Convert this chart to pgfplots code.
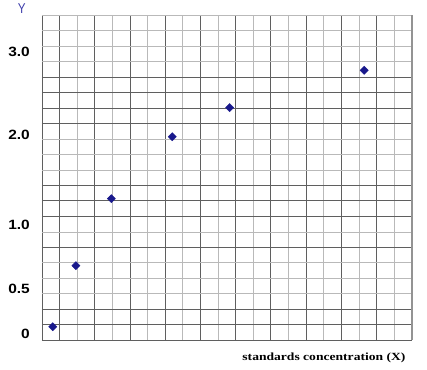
\documentclass[border=0pt]{standalone}
\usepackage{fontspec}
\setmainfont{Liberation Sans}
\newfontfamily\serifb{Liberation Serif}[FakeStretch=1.24]
\newfontfamily\tickfont{Liberation Sans}[FakeStretch=1.15]
\usepackage{pgfplots}
\pgfplotsset{compat=1.18}
\definecolor{darkgrid}{RGB}{95,95,95}
\definecolor{lightgrid}{RGB}{185,185,185}
\definecolor{navy}{RGB}{25,25,140}
\definecolor{ylab}{RGB}{60,60,170}
\begin{document}
\begin{tikzpicture}
\useasboundingbox (-42bp,-29.7bp) rectangle (385bp,340.3bp);
\begin{axis}[
 name=main,
 at={(0,0)}, anchor=south west,
 scale only axis, width=369.7bp, height=325.3bp,
 xmin=0,xmax=21,ymin=0,ymax=21,
 axis line style={draw=none},
 xtick={0,1,3,5,7,9,11,13,15,17,19}, minor xtick={2,4,6,8,10,12,14,16,18,20},
 ytick={0,1,2,6,8,9,10,14,15,16,17}, minor ytick={3,4,5,7,11,12,13,18,19,20,21},
 xticklabels={}, yticklabels={},
 major tick length=0pt, minor tick length=0pt,
 grid=both,
 major grid style={draw=darkgrid, line width=0.8bp},
 minor grid style={draw=lightgrid, line width=0.7bp},
 extra y ticks={0.39,3.29,7.46,13.25,18.63},
 extra y tick labels={0,0.5,1.0,2.0,3.0},
 extra y tick style={grid=none, major tick length=0pt, yticklabel style={font=\tickfont\bfseries\fontsize{13.5}{16}\selectfont, inner sep=0pt, anchor=east, xshift=-12bp}},
 extra x ticks={21}, extra x tick labels={},
 extra x tick style={grid=major, major grid style={draw=gray!85, line width=2bp}},
 clip=false,
]
\addplot[only marks, mark=square*, mark size=2.9bp, mark options={rotate=45, fill=navy, draw=navy}, color=navy] coordinates {
(0.61,0.88) (1.93,4.82) (3.94,9.14) (7.40,13.14) (10.66,15.02) (18.30,17.43)
};
\node[anchor=east, inner sep=0pt, font=\serifb\bfseries\fontsize{11}{13}\selectfont] at (rel axis cs:1,0) [xshift=-6bp, yshift=-17.5bp] {standards concentration (X)};
\node[inner sep=0pt, text=ylab, font=\fontsize{13}{15}\selectfont] at (rel axis cs:0,1) [xshift=-20.3bp, yshift=6.7bp] {\scalebox{0.9}[1.1]{Y}};
\end{axis}
\end{tikzpicture}
\end{document}
